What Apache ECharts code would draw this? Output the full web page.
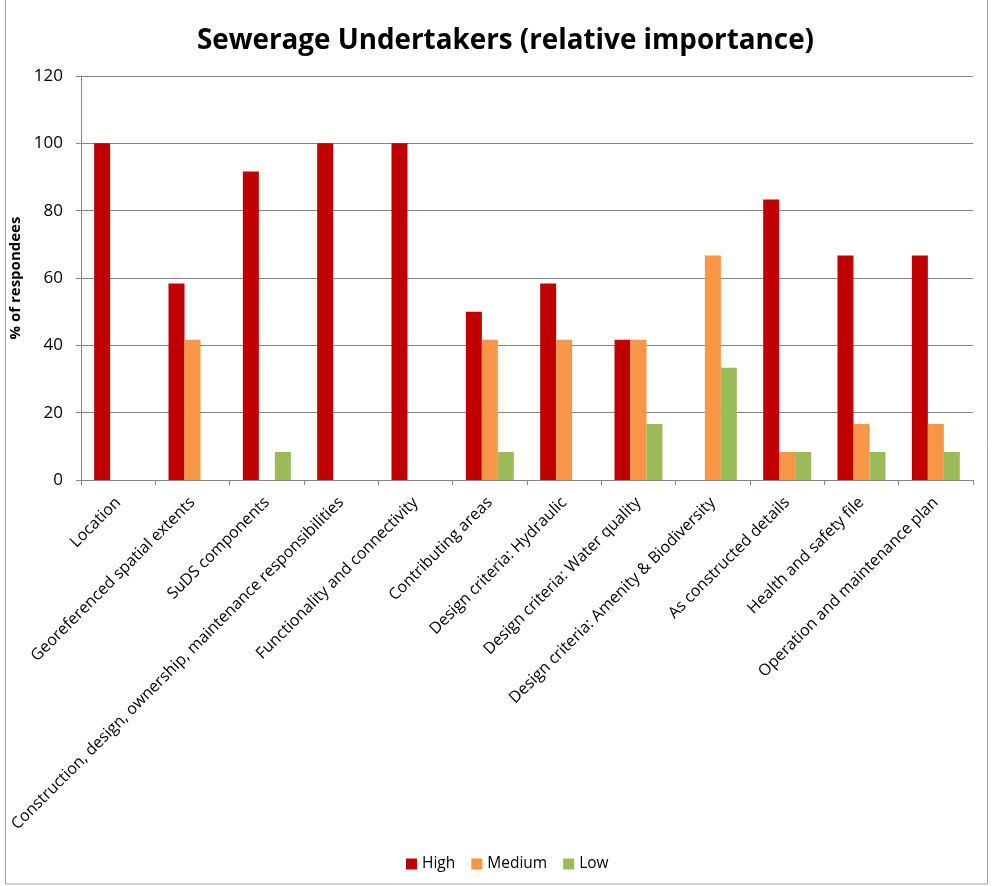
<!DOCTYPE html>
<html>
<head>
<meta charset="utf-8">
<script src="https://cdn.jsdelivr.net/npm/echarts@6/dist/echarts.min.js"></script>
<style>
  html, body { margin: 0; padding: 0; background: #fff; }
  #chart { width: 992px; height: 886px; }
</style>
</head>
<body>
<div id="chart"></div>
<script>
// Survey categories
const categories = [
  'Location',
  'Georeferenced spatial extents',
  'SuDS components',
  'Construction, design, ownership, maintenance responsibilities',
  'Functionality and connectivity',
  'Contributing areas',
  'Design criteria: Hydraulic',
  'Design criteria: Water quality',
  'Design criteria: Amenity & Biodiversity',
  'As constructed details',
  'Health and safety file',
  'Operation and maintenance plan'
];

// % of respondees per importance level
const high   = [100, 58.33, 91.67, 100, 100, 50, 58.33, 41.67, 0, 83.33, 66.67, 66.67];
const medium = [0, 41.67, 0, 0, 0, 41.67, 41.67, 41.67, 66.67, 8.33, 16.67, 16.67];
const low    = [0, 0, 8.33, 0, 0, 8.33, 0, 16.67, 33.33, 8.33, 8.33, 8.33];

const seriesNames = ['High', 'Medium', 'Low'];
const seriesColors = ['#C00000', '#F79646', '#9BBB59'];
const seriesData = [high, medium, low];

const font = '"Open Sans", "Liberation Sans", sans-serif';

const chart = echarts.init(document.getElementById('chart'), null, { renderer: 'canvas' });

chart.setOption({
  backgroundColor: '#ffffff',
  animation: false,
  textStyle: { fontFamily: font },
  graphic: [{
    type: 'rect',
    shape: { x: 5.5, y: -1, width: 982, height: 885 },
    style: { fill: 'none', stroke: '#a6a6a6', lineWidth: 1 },
    silent: true
  }],
  title: {
    text: 'Sewerage Undertakers (relative importance)',
    left: 192,
    top: 22,
    textStyle: { fontFamily: font, fontSize: 27.8, fontWeight: 'bold', color: '#000' }
  },
  legend: {
    bottom: 9,
    left: 401,
    itemWidth: 11,
    itemHeight: 11,
    itemGap: 16,
    icon: 'rect',
    textStyle: { fontFamily: font, fontSize: 15.5, color: '#000' },
    data: seriesNames
  },
  grid: { left: 81, right: 19, top: 76, bottom: 406, containLabel: false, outerBoundsMode: 'none' },
  xAxis: {
    type: 'category',
    data: categories,
    axisLine: { lineStyle: { color: '#868686' } },
    axisTick: { show: true, alignWithLabel: false, length: 5, lineStyle: { color: '#868686' } },
    axisLabel: {
      interval: 0,
      rotate: 45,
      margin: 20,
      fontFamily: font,
      fontSize: 16,
      color: '#000'
    }
  },
  yAxis: {
    type: 'value',
    min: 0,
    max: 120,
    interval: 20,
    name: '% of respondees',
    nameLocation: 'middle',
    nameGap: 56,
    nameTextStyle: { fontFamily: font, fontSize: 15, fontWeight: 'bold', color: '#000' },
    axisLine: { show: true, lineStyle: { color: '#868686' } },
    axisTick: { show: true, length: 5, lineStyle: { color: '#868686' } },
    axisLabel: { fontFamily: font, fontSize: 17, color: '#000', margin: 18 },
    splitLine: { lineStyle: { color: '#868686', width: 1 } }
  },
  series: seriesNames.map((name, i) => ({
    name,
    type: 'bar',
    data: seriesData[i],
    barWidth: 16,
    barGap: '0%',
    itemStyle: { color: seriesColors[i] }
  }))
});
</script>
</body>
</html>
